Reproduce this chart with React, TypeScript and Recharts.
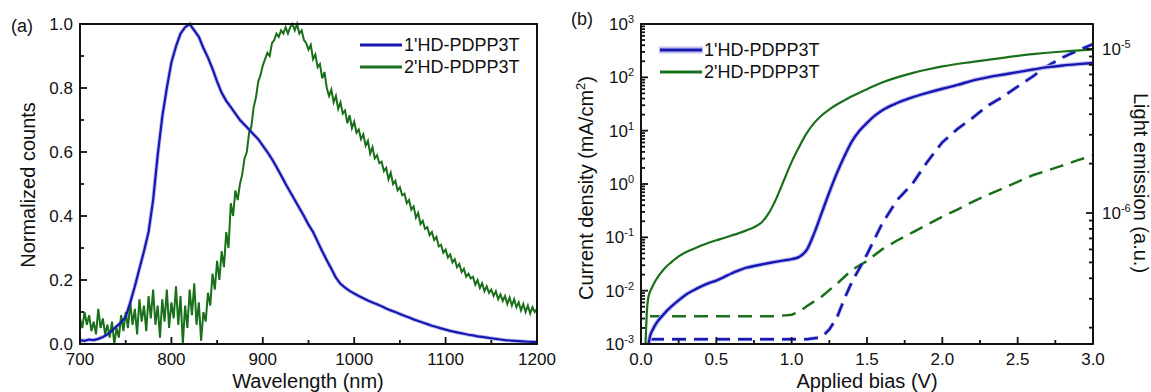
import React from 'react';
import { LineChart, Line, XAxis, YAxis, Legend, ReferenceArea } from 'recharts';

const FONT = '"Liberation Sans", Arial, sans-serif';
const INK = '#111111';
const BLUE = '#1717b2';
const BLUE_HALO = '#c2c2f0';
const GREEN = '#1a701a';

// (a) photoluminescence spectra, normalized
const blueWlStart = 700; // 5 nm sampling
const blueWlStep = 5;
const plBlue = [
  0.012, 0.010, 0.014, 0.012, 0.016, 0.022, 0.030, 0.042, 0.055, 0.068,
  0.085, 0.13, 0.18, 0.235, 0.29, 0.35, 0.45, 0.59, 0.71, 0.80,
  0.88, 0.93, 0.97, 0.99, 1.0, 0.98, 0.96, 0.925, 0.895, 0.86,
  0.82, 0.785, 0.76, 0.74, 0.72, 0.70, 0.685, 0.67, 0.655, 0.64,
  0.62, 0.60, 0.578, 0.553, 0.527, 0.50, 0.475, 0.45, 0.425, 0.40,
  0.373, 0.35, 0.32, 0.29, 0.262, 0.235, 0.207, 0.188, 0.176, 0.166,
  0.158, 0.15, 0.143, 0.136, 0.13, 0.124, 0.118, 0.111, 0.105, 0.10,
  0.094, 0.088, 0.083, 0.077, 0.072, 0.067, 0.062, 0.057, 0.053, 0.049,
  0.045, 0.041, 0.038, 0.035, 0.032, 0.029, 0.027, 0.024, 0.022, 0.02,
  0.018, 0.016, 0.014, 0.012, 0.011, 0.01, 0.009, 0.008, 0.007, 0.0065,
  0.006,
];

const greenWlStart = 700; // 2.5 nm sampling
const greenWlStep = 2.5;
const plGreen = [
  0.08, 0.05, 0.10, 0.06, 0.09, 0.04, 0.07, 0.03, 0.11, 0.05,
  0.08, 0.03, 0.06, 0.02, 0.07, 0.00, 0.05, 0.02, 0.09, 0.04,
  0.10, 0.05, 0.13, 0.06, 0.11, 0.03, 0.14, 0.07, 0.12, 0.04,
  0.15, 0.08, 0.17, 0.06, 0.12, 0.02, 0.14, 0.07, 0.17, 0.05,
  0.13, 0.08, 0.18, 0.06, 0.15, 0.00, 0.12, 0.05, 0.17, 0.09,
  0.19, 0.06, 0.13, 0.01, 0.10, 0.07, 0.16, 0.12, 0.22, 0.17,
  0.26, 0.20, 0.29, 0.24, 0.35, 0.30, 0.44, 0.40, 0.48, 0.45,
  0.50, 0.53, 0.58, 0.60, 0.66, 0.68, 0.74, 0.77, 0.82, 0.84,
  0.87, 0.89, 0.91, 0.90, 0.94, 0.95, 0.97, 0.96, 0.98, 0.97,
  0.99, 0.97, 0.99, 1.00, 0.98, 1.00, 0.97, 0.98, 0.95, 0.94,
  0.92, 0.935, 0.89, 0.905, 0.865, 0.875, 0.83, 0.85, 0.80, 0.775,
  0.795, 0.755, 0.775, 0.735, 0.755, 0.72, 0.73, 0.69, 0.715, 0.675,
  0.695, 0.66, 0.67, 0.64, 0.655, 0.62, 0.635, 0.595, 0.615, 0.58,
  0.59, 0.565, 0.57, 0.54, 0.55, 0.515, 0.535, 0.50, 0.51, 0.48,
  0.49, 0.465, 0.47, 0.44, 0.45, 0.42, 0.43, 0.395, 0.41, 0.375,
  0.385, 0.36, 0.365, 0.34, 0.35, 0.325, 0.335, 0.305, 0.31, 0.285,
  0.295, 0.27, 0.28, 0.255, 0.265, 0.24, 0.25, 0.225, 0.235, 0.21,
  0.22, 0.205, 0.21, 0.185, 0.2, 0.175, 0.19, 0.165, 0.18, 0.16,
  0.17, 0.15, 0.165, 0.14, 0.155, 0.135, 0.15, 0.125, 0.145, 0.12,
  0.14, 0.115, 0.13, 0.105, 0.125, 0.1, 0.12, 0.095, 0.115, 0.1,
  0.11,
];

const wlTicks = [700, 750, 800, 850, 900, 950, 1000, 1050, 1100, 1150, 1200];
const countTicks = [0, 0.1, 0.2, 0.3, 0.4, 0.5, 0.6, 0.7, 0.8, 0.9, 1.0];

// (b) current density (left, log) and light emission (right, log) vs bias
const biasJBlue = [
  0.05, 0.06, 0.08, 0.1, 0.15, 0.2, 0.25, 0.3, 0.35, 0.4, 0.45, 0.5, 0.55, 0.6,
  0.65, 0.7, 0.75, 0.8, 0.85, 0.9, 0.95, 1.0, 1.05, 1.1, 1.15, 1.2, 1.25, 1.3,
  1.35, 1.4, 1.45, 1.5, 1.55, 1.6, 1.7, 1.8, 1.9, 2.0, 2.1, 2.2, 2.3, 2.4, 2.5,
  2.6, 2.7, 2.8, 2.9, 3.0,
];
const jBlue = [
  0.001, 0.0014, 0.0019, 0.0024, 0.0036, 0.005, 0.0066, 0.0085, 0.0102, 0.012,
  0.0138, 0.0155, 0.018, 0.021, 0.024, 0.027, 0.029, 0.031, 0.033, 0.035, 0.037,
  0.039, 0.043, 0.058, 0.12, 0.29, 0.7, 1.6, 3.3, 6.3, 10, 14, 19, 24, 33, 42,
  51, 61, 72, 87, 100, 112, 125, 140, 155, 167, 177, 186,
];

const biasJGreen = [
  0.03, 0.04, 0.05, 0.07, 0.1, 0.15, 0.2, 0.25, 0.3, 0.35, 0.4, 0.45, 0.5, 0.55,
  0.6, 0.65, 0.7, 0.75, 0.8, 0.85, 0.9, 0.95, 1.0, 1.05, 1.1, 1.15, 1.2, 1.25,
  1.3, 1.35, 1.4, 1.5, 1.6, 1.7, 1.8, 1.9, 2.0, 2.2, 2.4, 2.6, 2.8, 3.0,
];
const jGreen = [
  0.001, 0.0045, 0.0078, 0.011, 0.016, 0.025, 0.034, 0.044, 0.053, 0.061, 0.07,
  0.079, 0.088, 0.097, 0.108, 0.12, 0.135, 0.155, 0.19, 0.29, 0.55, 1.2, 2.6,
  5.0, 9.0, 14, 19.5, 25, 31, 37, 44, 60, 80, 100, 120, 140, 160, 195, 232, 272,
  305, 330,
];

const biasLBlue = [
  0.06, 0.3, 0.6, 0.9, 1.1, 1.2, 1.25, 1.3, 1.35, 1.4, 1.45, 1.5, 1.6, 1.7, 1.8,
  1.9, 2.0, 2.1, 2.2, 2.3, 2.4, 2.5, 2.6, 2.7, 2.8, 2.9, 3.0,
];
const lBlue = [
  1.7e-7, 1.7e-7, 1.7e-7, 1.7e-7, 1.7e-7, 1.75e-7, 1.95e-7, 2.3e-7, 3.0e-7,
  3.8e-7, 4.6e-7, 5.6e-7, 8.6e-7, 1.2e-6, 1.5e-6, 2.05e-6, 2.7e-6, 3.25e-6,
  3.8e-6, 4.5e-6, 5.1e-6, 5.9e-6, 6.8e-6, 7.9e-6, 8.9e-6, 9.8e-6, 1.07e-5,
];

const biasLGreen = [
  0.06, 0.3, 0.6, 0.9, 1.0, 1.05, 1.1, 1.2, 1.3, 1.4, 1.5, 1.6, 1.7, 1.8, 1.9,
  2.0, 2.1, 2.2, 2.3, 2.4, 2.5, 2.6, 2.7, 2.8, 2.9, 3.0,
];
const lGreen = [
  2.35e-7, 2.35e-7, 2.35e-7, 2.35e-7, 2.4e-7, 2.5e-7, 2.7e-7, 3.1e-7, 3.7e-7,
  4.5e-7, 5.1e-7, 6.0e-7, 6.8e-7, 7.6e-7, 8.5e-7, 9.5e-7, 1.05e-6, 1.17e-6,
  1.29e-6, 1.41e-6, 1.55e-6, 1.7e-6, 1.82e-6, 1.95e-6, 2.1e-6, 2.24e-6,
];

const biasTicks = [0, 0.25, 0.5, 0.75, 1.0, 1.25, 1.5, 1.75, 2.0, 2.25, 2.5, 2.75, 3.0];
const jDecades = [0.001, 0.01, 0.1, 1, 10, 100, 1000];
const lDecades = [1e-7, 1e-6, 1e-5];
const lDomain = [1.59e-7, 1.42e-5];

const names = ["1'HD-PDPP3T", "2'HD-PDPP3T"];

// helpers
const grid = (start: number, step: number, ys: number[]) =>
  ys.map((y, i) => ({ x: start + i * step, y }));
const pairs = (xs: number[], ys: number[]) => xs.map((x, i) => ({ x, y: ys[i] }));

const logTicks = (decades: number[], lo: number, hi: number) => {
  const out: number[] = [];
  decades.forEach((d) => {
    for (let m = 1; m < 10; m++) {
      const v = +(m * d).toPrecision(3);
      if (v >= lo && v <= hi) out.push(v);
    }
  });
  return out;
};
const isDecade = (v: number) => Math.abs(Math.log10(v) - Math.round(Math.log10(v))) < 1e-6;

const blueSpec = grid(blueWlStart, blueWlStep, plBlue);
const greenSpec = grid(greenWlStart, greenWlStep, plGreen);
const jBlueData = pairs(biasJBlue, jBlue);
const jGreenData = pairs(biasJGreen, jGreen);
const lBlueData = pairs(biasLBlue, lBlue);
const lGreenData = pairs(biasLGreen, lGreen);

const jTicks = logTicks(jDecades, 0.001, 1000);
const lTicks = logTicks(lDecades, lDomain[0], lDomain[1]);

type Side = 'bottom' | 'top' | 'left' | 'right';

const pow10 = (v: number) => (
  <>
    10
    <tspan dy={-7} fontSize={11}>
      {Math.round(Math.log10(v))}
    </tspan>
  </>
);

// inward tick marks (drawn as paths); labels only on major ticks
const makeTick =
  (side: Side, isMajor: (v: number) => boolean, label?: (v: number) => React.ReactNode) =>
  (props: any) => {
    const x = Number(props.x);
    const y = Number(props.y);
    const v = props.payload.value as number;
    const major = isMajor(v);
    const len = major ? 7 : 4;
    let d = '';
    let text: React.ReactNode = null;
    const show = major && label;
    if (side === 'bottom') {
      d = `M${x},${y}L${x},${y - len}`;
      if (show) text = <text x={x} y={y + 21} textAnchor="middle">{label!(v)}</text>;
    } else if (side === 'top') {
      d = `M${x},${y}L${x},${y + len}`;
    } else if (side === 'left') {
      d = `M${x},${y}L${x + len},${y}`;
      if (show) text = <text x={x - 7} y={y + 6} textAnchor="end">{label!(v)}</text>;
    } else {
      d = `M${x},${y}L${x - len},${y}`;
      if (show) text = <text x={x + 9} y={y + 6} textAnchor="start">{label!(v)}</text>;
    }
    return (
      <g>
        <path d={d} stroke={INK} strokeWidth={1.8} fill="none" />
        {text && (
          <g fill={INK} stroke="none" fontFamily={FONT} fontSize={17}>
            {text}
          </g>
        )}
      </g>
    );
  };

const axisLine = { stroke: INK, strokeWidth: 1.8 };
const axisCommon = {
  stroke: INK,
  tickLine: false,
  tickSize: 0,
  tickMargin: 0,
  interval: 0 as const,
  axisLine,
};

const LegendBox = ({ halo }: { halo: boolean }) => (
  <div style={{ fontFamily: FONT, fontSize: 18, color: INK }}>
    {names.map((n, i) => (
      <div key={n} style={{ display: 'flex', alignItems: 'center', height: 22 }}>
        <svg width={44} height={10} style={{ marginRight: 1 }}>
          {i === 0 && halo && <line x1={0} y1={5} x2={44} y2={5} stroke={BLUE_HALO} strokeWidth={7} />}
          <line x1={1} y1={5} x2={43} y2={5} stroke={i === 0 ? BLUE : GREEN} strokeWidth={3} />
        </svg>
        <span>{n}</span>
      </div>
    ))}
  </div>
);

const PanelA = () => (
  <LineChart width={560} height={392} margin={{ top: 20, right: 19, bottom: 18, left: 30 }}>
    <XAxis
      dataKey="x"
      type="number"
      domain={[700, 1200]}
      ticks={wlTicks}
      height={30}
      {...axisCommon}
      tick={makeTick('bottom', (v) => v % 100 === 0, (v) => String(v))}
    />
    <XAxis
      xAxisId="top"
      orientation="top"
      dataKey="x"
      type="number"
      domain={[700, 1200]}
      ticks={wlTicks}
      height={4}
      {...axisCommon}
      tick={makeTick('top', (v) => v % 100 === 0)}
    />
    <YAxis
      type="number"
      domain={[0, 1]}
      ticks={countTicks}
      width={50}
      {...axisCommon}
      tick={makeTick('left', (v) => Math.round(v * 10) % 2 === 0, (v) => v.toFixed(1))}
    />
    <YAxis
      yAxisId="r"
      orientation="right"
      type="number"
      domain={[0, 1]}
      ticks={countTicks}
      width={4}
      {...axisCommon}
      tick={makeTick('right', () => true)}
    />
    <ReferenceArea x1={700} x2={1200} y1={0} y2={1} fill="none" stroke={INK} strokeWidth={1.8} ifOverflow="visible" />
    <Legend
      layout="vertical"
      align="center"
      verticalAlign="middle"
      wrapperStyle={{ left: 359, top: 34 }}
      content={() => <LegendBox halo={false} />}
    />
    <Line data={blueSpec} dataKey="y" stroke={BLUE_HALO} strokeWidth={4} dot={false} isAnimationActive={false} />
    <Line data={greenSpec} dataKey="y" stroke={GREEN} strokeWidth={2} dot={false} isAnimationActive={false} />
    <Line data={blueSpec} dataKey="y" stroke={BLUE} strokeWidth={2.2} dot={false} isAnimationActive={false} />
  </LineChart>
);

const PanelB = () => (
  <LineChart width={591} height={392} margin={{ top: 20, right: 0, bottom: 18, left: 31 }}>
    <XAxis
      dataKey="x"
      type="number"
      domain={[0, 3]}
      ticks={biasTicks}
      height={30}
      {...axisCommon}
      tick={makeTick('bottom', (v) => Math.round(v * 4) % 2 === 0, (v) => v.toFixed(1))}
    />
    <XAxis
      xAxisId="top"
      orientation="top"
      dataKey="x"
      type="number"
      domain={[0, 3]}
      ticks={biasTicks}
      height={4}
      {...axisCommon}
      tick={makeTick('top', (v) => Math.round(v * 4) % 2 === 0)}
    />
    <YAxis
      yAxisId="j"
      type="number"
      scale="log"
      domain={[0.001, 1000]}
      allowDataOverflow
      ticks={jTicks}
      width={50}
      {...axisCommon}
      tick={makeTick('left', isDecade, pow10)}
    />
    <YAxis
      yAxisId="l"
      orientation="right"
      type="number"
      scale="log"
      domain={lDomain}
      allowDataOverflow
      ticks={lTicks}
      width={58}
      {...axisCommon}
      tick={makeTick('right', isDecade, pow10)}
    />
    <ReferenceArea yAxisId="j" x1={0} x2={3} y1={0.001} y2={1000} fill="none" stroke={INK} strokeWidth={1.8} ifOverflow="visible" />
    <Legend
      layout="vertical"
      align="center"
      verticalAlign="middle"
      wrapperStyle={{ left: 99, top: 39 }}
      content={() => <LegendBox halo />}
    />
    <Line yAxisId="l" data={lBlueData} dataKey="y" stroke={BLUE_HALO} strokeWidth={4} strokeDasharray="14 8" dot={false} isAnimationActive={false} />
    <Line yAxisId="l" data={lGreenData} dataKey="y" stroke={GREEN} strokeWidth={2.5} strokeDasharray="14 8" dot={false} isAnimationActive={false} />
    <Line yAxisId="l" data={lBlueData} dataKey="y" stroke={BLUE} strokeWidth={2.5} strokeDasharray="14 8" dot={false} isAnimationActive={false} />
    <Line yAxisId="j" type="monotone" data={jBlueData} dataKey="y" stroke={BLUE_HALO} strokeWidth={4.5} dot={false} isAnimationActive={false} />
    <Line yAxisId="j" type="monotone" data={jGreenData} dataKey="y" stroke={GREEN} strokeWidth={2.2} dot={false} isAnimationActive={false} />
    <Line yAxisId="j" type="monotone" data={jBlueData} dataKey="y" stroke={BLUE} strokeWidth={2.4} dot={false} isAnimationActive={false} />
  </LineChart>
);

export default function App() {
  return (
    <div
      style={{
        position: 'absolute',
        left: 0,
        top: 0,
        width: 1151,
        height: 392,
        overflow: 'hidden',
        background: '#fff',
      }}
    >
      <div style={{ position: 'absolute', left: 0, top: 0 }}>
        <PanelA />
      </div>
      <div style={{ position: 'absolute', left: 560, top: 0 }}>
        <PanelB />
      </div>
      <svg
        width={1151}
        height={392}
        style={{ position: 'absolute', left: 0, top: 0, pointerEvents: 'none' }}
        fontFamily={FONT}
        fill={INK}
      >
        <text x={11} y={32} fontSize={18}>(a)</text>
        <text x={571} y={25} fontSize={18}>(b)</text>
        <text x={308} y={388} fontSize={20} textAnchor="middle">Wavelength (nm)</text>
        <text x={867} y={388} fontSize={20} textAnchor="middle">Applied bias (V)</text>
        <text transform="translate(35 185) rotate(-90)" fontSize={20} textAnchor="middle">
          Normalized counts
        </text>
        <text transform="translate(593 188) rotate(-90)" fontSize={20} textAnchor="middle">
          Current density (mA/cm<tspan dy={-8} fontSize={13}>2</tspan><tspan dy={8}>)</tspan>
        </text>
        <text transform="translate(1134 183) rotate(90)" fontSize={20} textAnchor="middle">
          Light emission (a.u.)
        </text>
      </svg>
    </div>
  );
}
